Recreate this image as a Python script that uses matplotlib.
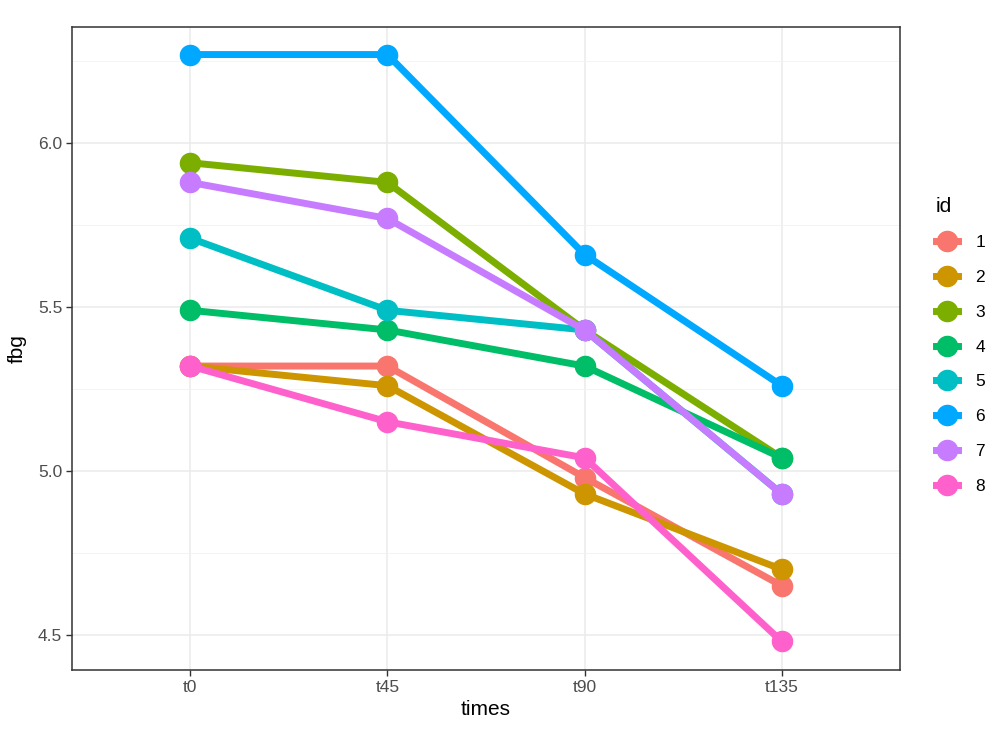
import numpy as np
import matplotlib
matplotlib.use("Agg")
import matplotlib.pyplot as plt
from matplotlib.lines import Line2D

plt.rcParams['font.family'] = ['Liberation Sans', 'DejaVu Sans']

times = ["t0", "t45", "t90", "t135"]
ids = ["1", "2", "3", "4", "5", "6", "7", "8"]
fbg_1 = [5.32, 5.32, 4.98, 4.65]
fbg_2 = [5.32, 5.26, 4.93, 4.70]
fbg_3 = [5.94, 5.88, 5.43, 5.04]
fbg_4 = [5.49, 5.43, 5.32, 5.04]
fbg_5 = [5.71, 5.49, 5.43, 4.93]
fbg_6 = [6.27, 6.27, 5.66, 5.26]
fbg_7 = [5.88, 5.77, 5.43, 4.93]
fbg_8 = [5.32, 5.15, 5.04, 4.48]
series = [fbg_1, fbg_2, fbg_3, fbg_4, fbg_5, fbg_6, fbg_7, fbg_8]
colors = ["#F8766D", "#CD9600", "#7CAE00", "#00BE67",
          "#00BFC4", "#00A9FF", "#C77CFF", "#FF61CC"]

fig = plt.figure(figsize=(9.99, 7.42), dpi=100)
ax = fig.add_axes([72 / 999, 1 - 670 / 742, (900 - 72) / 999, (670 - 27) / 742])

x = np.arange(len(times))
for vals, c in zip(series, colors):
    ax.plot(x, vals, color=c, lw=5, marker='o', ms=14.5,
            solid_capstyle='butt', zorder=3)

ax.set_xlim(-0.6, 3.6)
ax.set_ylim(4.393, 6.354)
ax.set_xticks(x)
ax.set_xticklabels(times)
ax.set_yticks([4.5, 5.0, 5.5, 6.0])
ax.set_yticklabels(["4.5", "5.0", "5.5", "6.0"])
ax.set_yticks([4.75, 5.25, 5.75, 6.25], minor=True)
ax.grid(True, which='major', color='#EBEBEB', lw=1.1, zorder=0)
ax.grid(True, which='minor', axis='y', color='#F2F2F2', lw=0.6, zorder=0)
ax.tick_params(which='minor', length=0)
ax.tick_params(which='major', length=4, color='#333333', width=1,
               labelsize=12.5, labelcolor='#4D4D4D', pad=3)
for s in ax.spines.values():
    s.set_color('#333333')
    s.set_linewidth(1.1)

ax.set_xlabel("times", fontsize=15, labelpad=4)
ax.set_ylabel("fbg", fontsize=15, labelpad=8)

handles = [Line2D([0], [0], color=c, lw=5, marker='o', ms=14.5) for c in colors]
leg = fig.legend(handles, ids, title="id", loc='upper left',
                 bbox_to_anchor=(920 / 999, 1 - 181 / 742), frameon=False,
                 fontsize=12.5, title_fontsize=15, handlelength=1.3,
                 labelspacing=1.13, handletextpad=1.0, alignment='left')

fig.savefig("out.png", dpi=100)
